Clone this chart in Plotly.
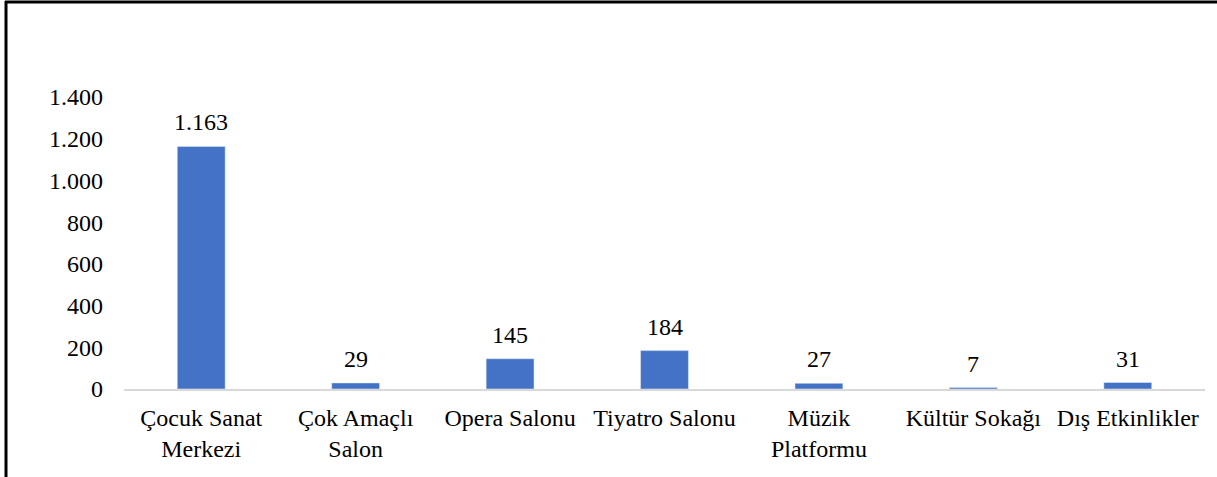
import plotly.graph_objects as go

categories = ["Çocuk Sanat<br>Merkezi", "Çok Amaçlı<br>Salon", "Opera Salonu", "Tiyatro Salonu",
              "Müzik<br>Platformu", "Kültür Sokağı", "Dış Etkinlikler"]
values = [1163, 29, 145, 184, 27, 7, 31]
value_labels = ["1.163", "29", "145", "184", "27", "7", "31"]
y_ticks = [0, 200, 400, 600, 800, 1000, 1200, 1400]

W, H = 1217, 477
L, R, T, B = 124, 12, 97, 88
pw, ph = W - L - R, H - T - B

def px_x(x):
    return (x - L) / pw

def px_y(y):
    return (H - B - y) / ph

fig = go.Figure(go.Bar(
    x=categories, y=values,
    marker_color="#4472C4",
    hoverinfo="x+y",
))

for c, v, lab in zip(categories, values, value_labels):
    fig.add_annotation(x=c, y=v, text=lab, showarrow=False, yanchor="bottom",
                       yshift=9, font=dict(size=24, color="black"))

fig.update_layout(
    width=W, height=H,
    margin=dict(l=L, r=R, t=T, b=B),
    paper_bgcolor="white", plot_bgcolor="white",
    font=dict(family="Liberation Serif, Times New Roman, serif", size=24, color="black"),
    separators=",.",
    bargap=0.69,
    showlegend=False,
    xaxis=dict(showline=True, linecolor="#D9D9D9", linewidth=2, showgrid=False,
               ticks="", ticklabelstandoff=6, tickfont=dict(size=24)),
    yaxis=dict(range=[0, 1400], tickvals=y_ticks, tickformat=",", showgrid=False,
               zeroline=False, showline=False, ticks="", ticklabelstandoff=20,
               tickfont=dict(size=24)),
    shapes=[
        dict(type="line", xref="paper", yref="paper", x0=px_x(5), x1=px_x(W + 5),
             y0=px_y(2), y1=px_y(2), line=dict(color="black", width=3)),
        dict(type="line", xref="paper", yref="paper", x0=px_x(6), x1=px_x(6),
             y0=px_y(1), y1=px_y(H + 5), line=dict(color="black", width=3)),
    ],
)

fig.write_html("out.html", config={"displayModeBar": False},
               post_script="document.body.style.margin='0px';")
